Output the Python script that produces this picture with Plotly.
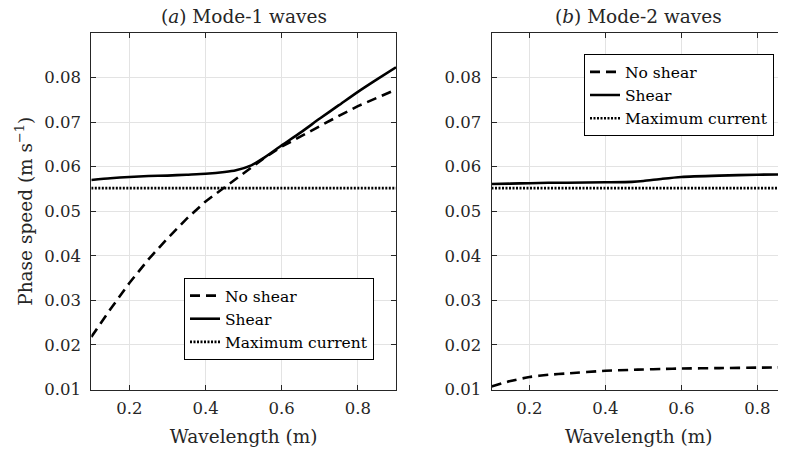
import plotly.graph_objects as go

# ---- data ----
wl_a = [0.10, 0.15, 0.20, 0.25, 0.30, 0.35, 0.40, 0.45, 0.48, 0.52, 0.55, 0.60, 0.65, 0.70, 0.75, 0.80, 0.85, 0.90]
noshear_a = [0.0218, 0.0280, 0.0339, 0.0392, 0.0439, 0.0483, 0.0522, 0.0553, 0.0572, 0.0597, 0.0617, 0.0645, 0.0668, 0.0692, 0.0714, 0.0736, 0.0755, 0.0773]
shear_a = [0.0570, 0.0574, 0.0577, 0.0579, 0.0580, 0.0582, 0.0584, 0.0588, 0.0592, 0.0603, 0.0618, 0.0648, 0.0677, 0.0708, 0.0738, 0.0768, 0.0796, 0.0823]

wl_b = [0.10, 0.15, 0.20, 0.25, 0.30, 0.40, 0.47, 0.50, 0.55, 0.60, 0.70, 0.80, 0.90]
noshear_b = [0.0107, 0.0119, 0.0128, 0.0133, 0.0136, 0.0142, 0.0144, 0.0145, 0.0146, 0.0147, 0.0148, 0.0149, 0.0150]
shear_b = [0.0561, 0.0562, 0.0563, 0.0564, 0.0564, 0.0565, 0.0566, 0.0568, 0.0573, 0.0577, 0.0580, 0.0582, 0.0583]

max_current = 0.0552
wl_range = [0.10, 0.90]

x_ticks = [0.2, 0.4, 0.6, 0.8]
y_ticks = [0.01, 0.02, 0.03, 0.04, 0.05, 0.06, 0.07, 0.08]

titles = ["(<i>a</i>) Mode-1 waves", "(<i>b</i>) Mode-2 waves"]
names = ["No shear", "Shear", "Maximum current"]

FONT = "DejaVu Serif"
TXT = "#262626"
OFF = 8  # page body margin offset
W, H = 786 - OFF, 454 - OFF

fig = go.Figure()

LW = 2.6
dash_style = "10px,6px"
dot_style = "2px,1.5px"

fig.add_trace(go.Scatter(x=wl_a, y=noshear_a, mode="lines", name=names[0],
                         line=dict(color="black", width=LW, dash=dash_style),
                         xaxis="x", yaxis="y", legend="legend"))
fig.add_trace(go.Scatter(x=wl_a, y=shear_a, mode="lines", name=names[1],
                         line=dict(color="black", width=LW, shape="spline", smoothing=0.6),
                         xaxis="x", yaxis="y", legend="legend"))
fig.add_trace(go.Scatter(x=wl_range, y=[max_current, max_current], mode="lines", name=names[2],
                         line=dict(color="black", width=LW, dash=dot_style),
                         xaxis="x", yaxis="y", legend="legend"))
fig.add_trace(go.Scatter(x=wl_b, y=noshear_b, mode="lines", name=names[0],
                         line=dict(color="black", width=LW, dash=dash_style, shape="spline", smoothing=0.6),
                         xaxis="x2", yaxis="y2", legend="legend2"))
fig.add_trace(go.Scatter(x=wl_b, y=shear_b, mode="lines", name=names[1],
                         line=dict(color="black", width=LW, shape="spline", smoothing=0.6),
                         xaxis="x2", yaxis="y2", legend="legend2"))
fig.add_trace(go.Scatter(x=wl_range, y=[max_current, max_current], mode="lines", name=names[2],
                         line=dict(color="black", width=LW, dash=dot_style),
                         xaxis="x2", yaxis="y2", legend="legend2"))

def px(x):
    return (x - OFF) / W

def py(y):
    return (H - (y - OFF)) / H

lx0, lx1 = 91.3, 396.0
rx0, rx1 = 491.5, 786.0
ytop, ybot = 33.0, 389.5
ydom = [py(ybot), py(ytop)]

axis_common = dict(
    showline=True, linecolor=TXT, linewidth=1, mirror="ticks",
    ticks="inside", ticklen=5, tickcolor=TXT, tickwidth=1,
    showgrid=True, gridcolor="#e3e3e3", gridwidth=1, zeroline=False,
    automargin=False,
    tickfont=dict(family=FONT, size=16.5, color=TXT),
)

title_font = dict(family=FONT, size=18.5, color=TXT)
leg_font = dict(family=FONT, size=15.5, color="black")

fig.update_layout(
    template="none",
    width=W, height=H,
    margin=dict(l=0, r=0, t=0, b=0, autoexpand=False),
    paper_bgcolor="white", plot_bgcolor="white",
    font=dict(family=FONT, size=16, color=TXT),
    xaxis=dict(domain=[px(lx0), px(lx1)], range=[0.1, 0.9], tickvals=x_ticks,
               ticktext=[f"{v:.1f}" for v in x_ticks], anchor="y",
               title=dict(text="Wavelength (m)", font=title_font, standoff=12),
               ticklabelstandoff=4,
               **axis_common),
    yaxis=dict(domain=ydom, range=[0.01, 0.09], tickvals=y_ticks,
               ticktext=[f"{v:.2f}" for v in y_ticks], anchor="x",
               title=dict(text="Phase speed (m s<sup>−1</sup>)", font=title_font, standoff=6),
               ticklabelstandoff=6,
               **axis_common),
    xaxis2=dict(domain=[px(rx0), 1.0], range=[0.1, 0.8755], tickvals=x_ticks,
                ticktext=[f"{v:.1f}" for v in x_ticks], anchor="y2",
                title=dict(text="Wavelength (m)", font=title_font, standoff=12),
                ticklabelstandoff=4,
                **axis_common),
    yaxis2=dict(domain=ydom, range=[0.01, 0.09], tickvals=y_ticks,
                ticktext=[f"{v:.2f}" for v in y_ticks], anchor="x2",
                ticklabelstandoff=6,
                **axis_common),
    legend=dict(x=px(374), y=py(360), xanchor="right", yanchor="bottom",
                bgcolor="white", bordercolor="black", borderwidth=1,
                font=leg_font, tracegroupgap=0, itemwidth=30),
    legend2=dict(x=px(774), y=py(54.3), xanchor="right", yanchor="top",
                 bgcolor="white", bordercolor="black", borderwidth=1,
                 font=leg_font, tracegroupgap=0, itemwidth=30),
    showlegend=True,
)

for title, (a, b) in zip(titles, [(lx0, lx1), (rx0, rx1)]):
    fig.add_annotation(text=title, x=px((a + b) / 2), y=py(17), xref="paper", yref="paper",
                       showarrow=False, xanchor="center", yanchor="middle",
                       font=title_font)

fig.write_html("out.html")
